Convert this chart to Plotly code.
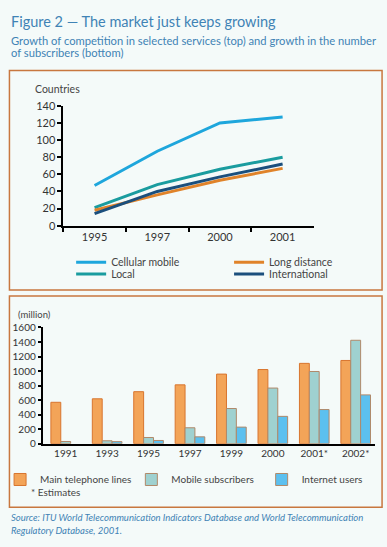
import plotly.graph_objects as go

# ---- data ----
years_top = ["1995", "1997", "2000", "2001"]
cellular_mobile = [47, 87, 120, 127]
local = [21, 48, 66, 80]
long_distance = [18, 36, 53, 67]
international = [14, 40, 57, 72]

years_bottom = ["1991", "1993", "1995", "1997", "1999", "2000", "2001*", "2002*"]
main_lines = [570, 618, 716, 810, 958, 1021, 1106, 1146]
mobile_subs = [30, 40, 85, 219, 484, 766, 994, 1424]
internet_users = [None, 28, 44, 94, 228, 376, 470, 672]

W, H = 387, 547
FONT = "Lato"
BLUE_TXT = "#3f83b5"
TXT = "#444444"


def px(x):
    return x / W


def py(y):
    return 1 - y / H


fig = go.Figure()

line_specs = [
    ("Cellular mobile", cellular_mobile, "#1ea6dc", "legend"),
    ("Local", local, "#1a9c9f", "legend2"),
    ("Long distance", long_distance, "#e0832a", "legend3"),
    ("International", international, "#1b4f7d", "legend4"),
]
for name, vals, col, lg in line_specs:
    fig.add_trace(go.Scatter(x=years_top, y=vals, name=name, mode="lines",
                             line=dict(color=col, width=3), showlegend=True,
                             xaxis="x", yaxis="y", legend=lg))

bar_specs = [
    ("Main telephone lines", main_lines, "#f3a458", "#d8752f", "legend5"),
    ("Mobile subscribers", mobile_subs, "#9fd1d0", "#b0896a", "legend6"),
    ("Internet users", internet_users, "#5cc0ef", "#b0896a", "legend7"),
]
for name, vals, col, lc, lg in bar_specs:
    fig.add_trace(go.Bar(x=years_bottom, y=vals, name=name, showlegend=True,
                         marker=dict(color=col, line=dict(color=lc, width=1)),
                         xaxis="x2", yaxis="y2", legend=lg))

axis_common = dict(showgrid=False, zeroline=False, showline=True,
                   linecolor="black", linewidth=1.5,
                   tickfont=dict(family=FONT, size=11, color="#333333"))

layout = dict(
    width=W, height=H,
    margin=dict(l=0, r=0, t=0, b=0),
    paper_bgcolor="#f4faf9", plot_bgcolor="rgba(0,0,0,0)",
    font=dict(family=FONT, color=TXT),
    showlegend=True,
    barmode="group", bargap=0.285, bargroupgap=0,
    xaxis=dict(axis_common, domain=[px(59), px(313)], anchor="y",
               type="category", range=[-0.5, 3.5], ticks="outside",
               tickson="boundaries", ticklen=5, tickwidth=1.5, tickcolor="black"),
    yaxis=dict(axis_common, domain=[py(224), py(101.3)], anchor="x",
               range=[0, 140], dtick=20, ticks="outside", ticklen=4,
               tickwidth=1.5, tickcolor="black"),
    xaxis2=dict(axis_common, domain=[px(38), px(375)], anchor="y2",
                type="category", range=[-0.56, 7.47], ticks="",
                tickfont=dict(family=FONT, size=10, color="#333333")),
    yaxis2=dict(axis_common, domain=[py(447.3), py(328.3)], anchor="x2",
                range=[0, 1600], dtick=200, ticks="outside", ticklen=3,
                tickwidth=1.5, tickcolor="black",
                tickfont=dict(family=FONT, size=10, color="#333333")),
    shapes=[
        dict(type="rect", xref="paper", yref="paper", x0=px(4.5), x1=px(382),
             y0=py(290), y1=py(65), line=dict(color="#c8773f", width=1.5)),
        dict(type="rect", xref="paper", yref="paper", x0=px(4.5), x1=px(382),
             y0=py(512.5), y1=py(296), line=dict(color="#c8773f", width=1.5)),
    ],
)

legend_pos = {
    "legend": (67, 261.5, 10.5), "legend2": (67, 273.5, 10.5),
    "legend3": (227, 261.5, 10.5), "legend4": (227, 273.5, 10.5),
    "legend5": (-5, 484, 10), "legend6": (128, 484, 10), "legend7": (260, 484, 10),
}
for lg, (x, y, fs) in legend_pos.items():
    layout[lg] = dict(x=px(x), y=py(y), xanchor="left", yanchor="middle",
                      xref="paper", yref="paper", bgcolor="rgba(0,0,0,0)",
                      borderwidth=0, font=dict(family=FONT, size=fs, color=TXT))

fig.update_layout(**layout)

ann = [
    (4, 15, "Figure 2 — The market just keeps growing", 14.5, BLUE_TXT, False),
    (4, 34, "Growth of competition in selected services (top) and growth in the number", 11.2, BLUE_TXT, False),
    (4, 47, "of subscribers (bottom)", 11.2, BLUE_TXT, False),
    (28, 84, "Countries", 10.5, TXT, False),
    (11, 315, "(million)", 9.5, TXT, False),
    (24, 497, "* Estimates", 10, TXT, False),
    (4, 523, "Source: ITU World Telecommunication Indicators Database and World Telecommunication", 9.5, BLUE_TXT, True),
    (4, 536, "Regulatory Database, 2001.", 9.5, BLUE_TXT, True),
]
for x, y, t, s, c, it in ann:
    fig.add_annotation(x=px(x), y=py(y), xref="paper", yref="paper",
                       xanchor="left", yanchor="middle", showarrow=False,
                       text=t, font=dict(family=FONT, size=s, color=c,
                                         style="italic" if it else "normal"))

fig.write_html("out.html", config={"displayModeBar": False},
               post_script="document.body.style.margin='0';")
